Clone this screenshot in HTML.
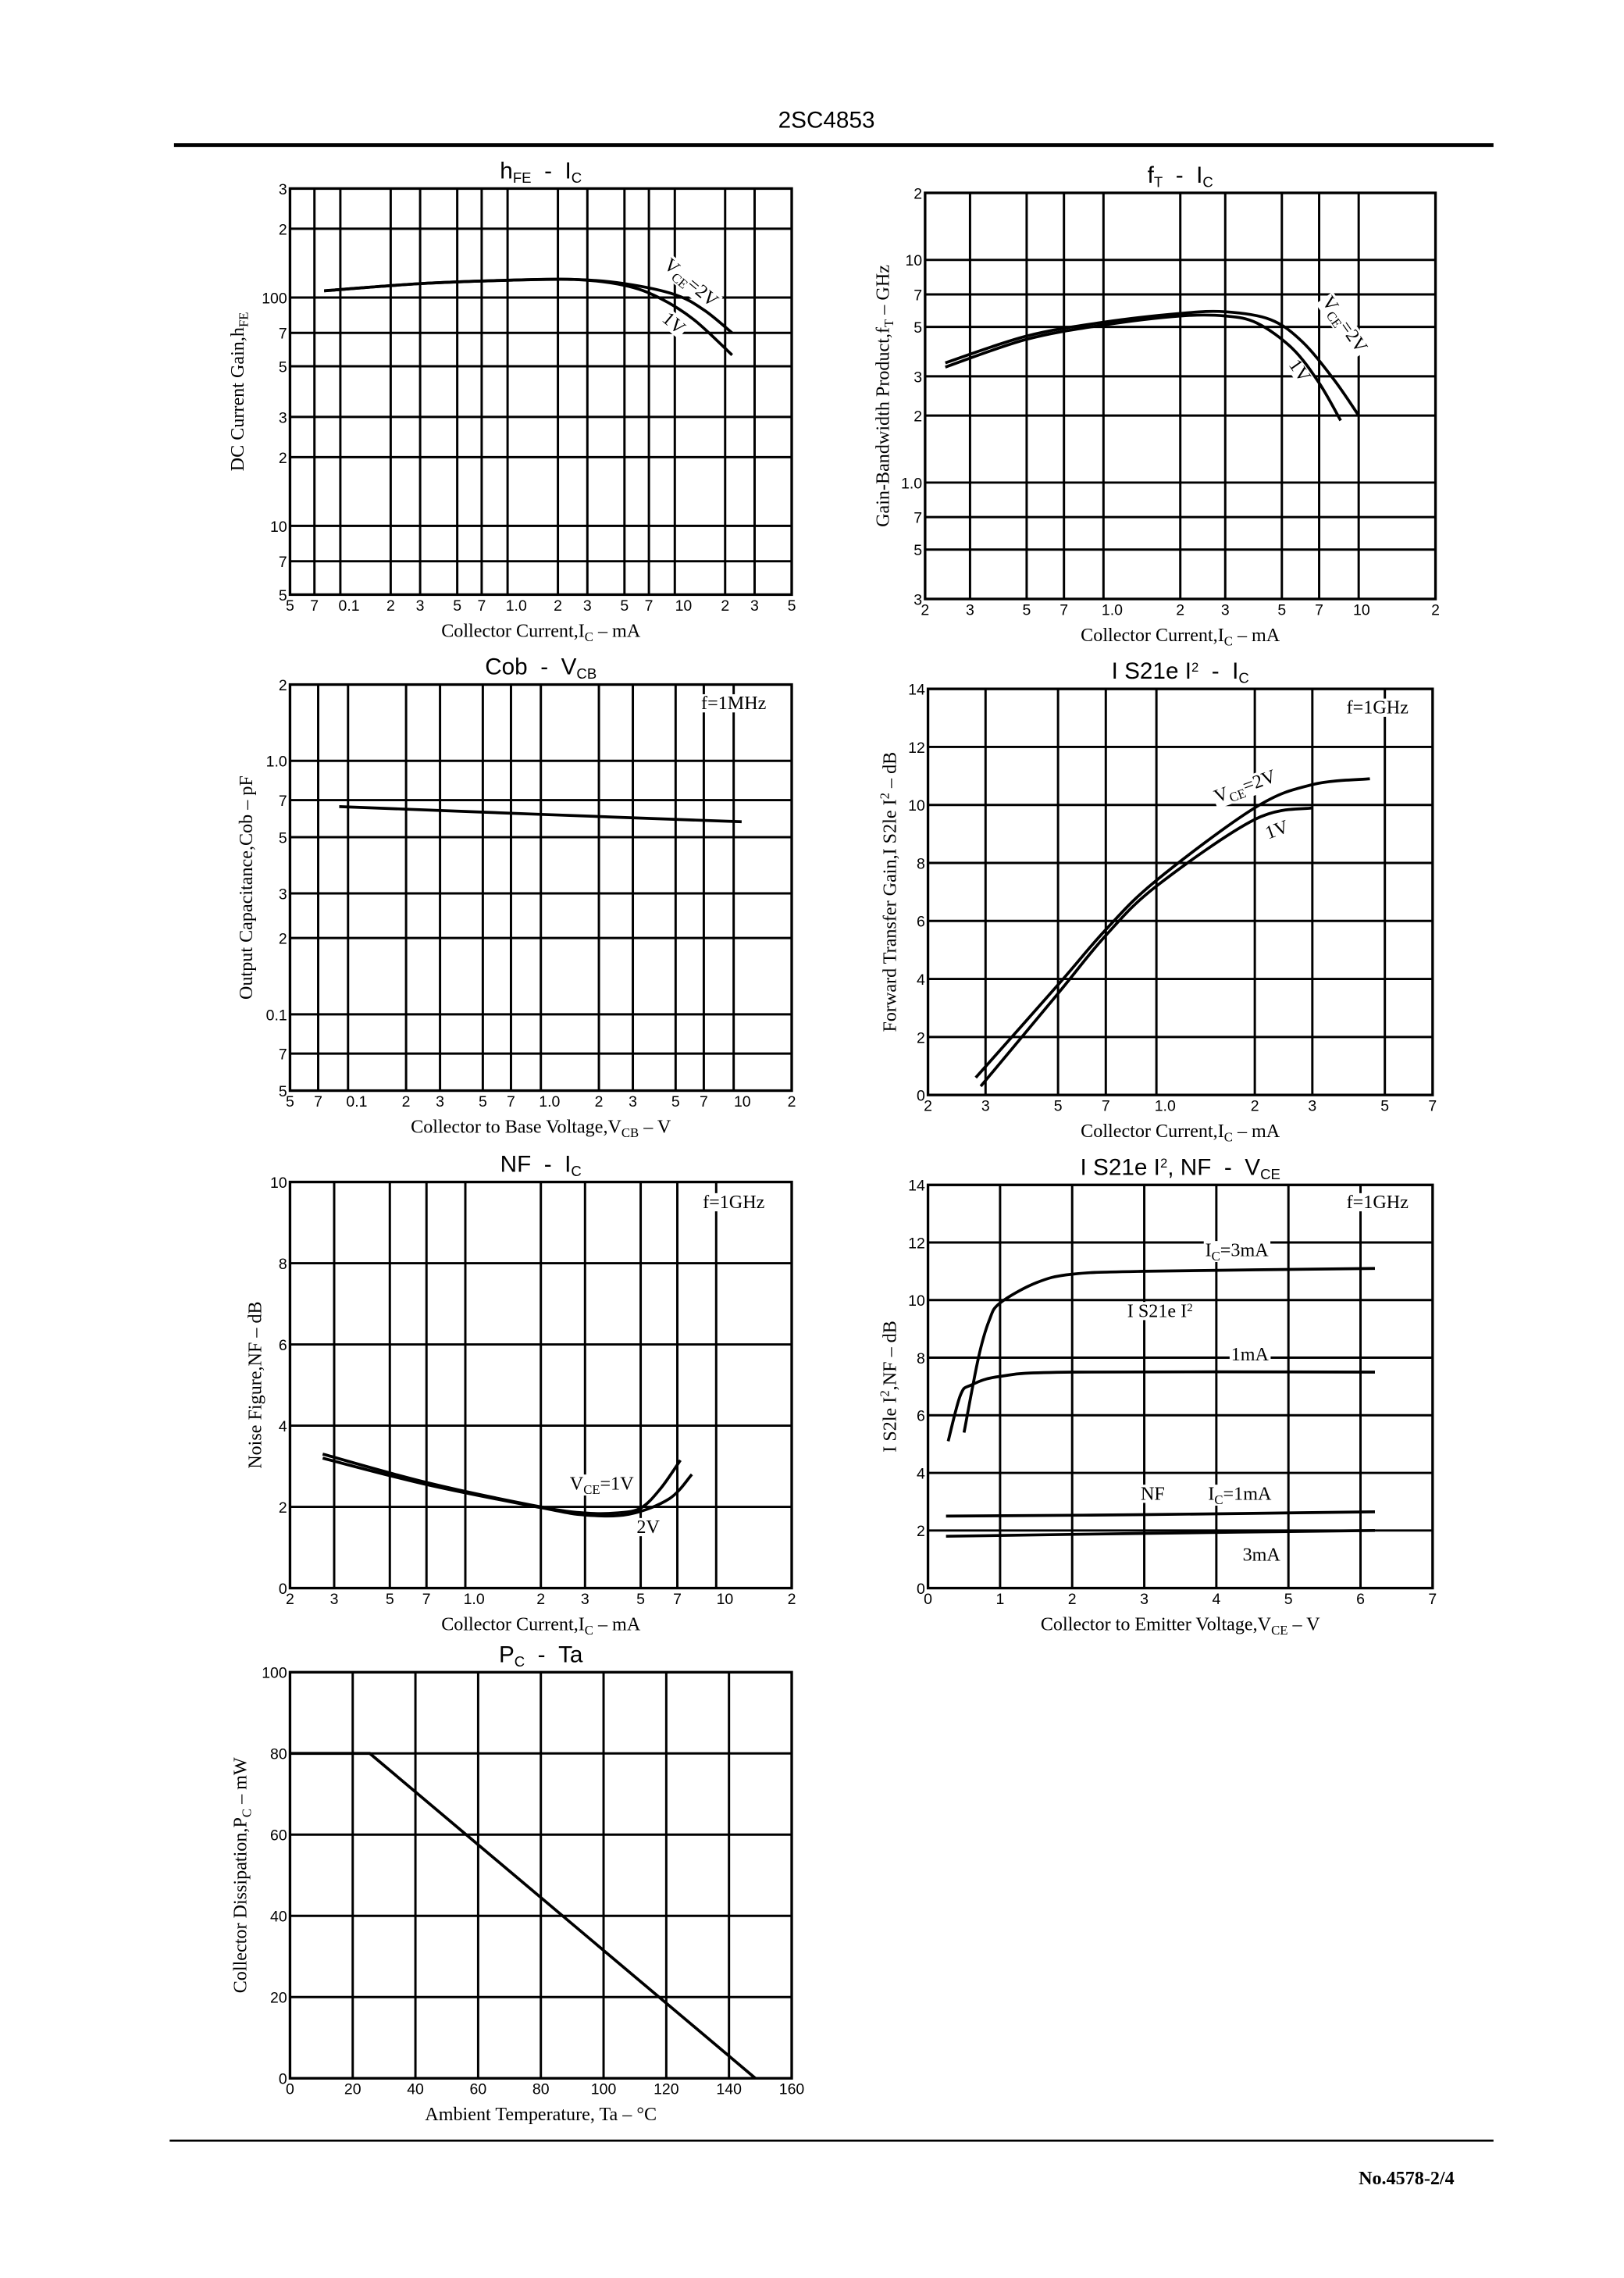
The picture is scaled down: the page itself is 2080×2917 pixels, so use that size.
<!DOCTYPE html>
<html><head><meta charset="utf-8"><style>
html,body{margin:0;padding:0;background:#fff;}
svg{display:block;}
.t{font-family:"Liberation Sans",sans-serif;font-size:10.5px;fill:#000;}
.s{font-family:"Liberation Serif",serif;font-size:13px;fill:#000;}
.h{font-family:"Liberation Sans",sans-serif;font-size:16px;fill:#000;}
</style></head><body>
<svg id="g" xmlns="http://www.w3.org/2000/svg" width="2080" height="2917" viewBox="0 0 1120 1570.7">
<rect width="1120" height="1571" fill="#fff"/>
<text x="570" y="88" class="h" text-anchor="middle" font-size="18">2SC4853</text>
<line x1="120" y1="100" x2="1030" y2="100" stroke="#000" stroke-width="2.6"/>
<line x1="117" y1="1476" x2="1030" y2="1476" stroke="#000" stroke-width="1.5"/>
<text x="1003" y="1506" class="s" text-anchor="end" font-weight="bold" font-size="14">No.4578-2/4</text>
</svg>
<script>
var S=document.getElementById('g'),NS='http://www.w3.org/2000/svg';
function el(n,a,txt){var e=document.createElementNS(NS,n);for(var k in a)e.setAttribute(k,a[k]);if(txt!=null)e.textContent=txt;S.appendChild(e);return e;}
function mk(c){
 var L=Math.log10;
 c.fx=function(v){return c.xl?c.x0+(L(v)-L(c.xa))/(L(c.xb)-L(c.xa))*(c.x1-c.x0):c.x0+(v-c.xa)/(c.xb-c.xa)*(c.x1-c.x0);};
 c.fy=function(v){return c.yl?c.y1-(L(v)-L(c.ya))/(L(c.yb)-L(c.ya))*(c.y1-c.y0):c.y1-(v-c.ya)/(c.yb-c.ya)*(c.y1-c.y0);};
 c.xt.forEach(function(t){var x=c.fx(t[0]);
  if(x>c.x0+1&&x<c.x1-1)el('line',{x1:x,y1:c.y0,x2:x,y2:c.y1,stroke:'#000','stroke-width':1.6});
  el('text',{x:x+(t[2]||0),y:c.y1+11,'class':'t','text-anchor':'middle'},t[1]);});
 c.yt.forEach(function(t){var y=c.fy(t[0]);
  if(y>c.y0+1&&y<c.y1-1)el('line',{x1:c.x0,y1:y,x2:c.x1,y2:y,stroke:'#000','stroke-width':1.6});
  el('text',{x:c.x0-2,y:y+4,'class':'t','text-anchor':'end'},t[1]);});
 el('rect',{x:c.x0,y:c.y0,width:c.x1-c.x0,height:c.y1-c.y0,fill:'none',stroke:'#000','stroke-width':1.8});
 el('text',{x:(c.x0+c.x1)/2,y:c.y0-7,'class':'h','text-anchor':'middle'},'').innerHTML=c.title;
 el('text',{x:(c.x0+c.x1)/2,y:c.y1+29,'class':'s','text-anchor':'middle'},'').innerHTML=c.xlab;
 var yx=c.ylx,yy=(c.y0+c.y1)/2;
 el('text',{x:yx,y:yy,'class':'s','text-anchor':'middle',transform:'rotate(-90 '+yx+' '+yy+')'},'').innerHTML=c.ylab;
 (c.notes||[]).forEach(function(n){var g=el('g',n[3]?{transform:'rotate('+n[3]+' '+n[0]+' '+n[1]+')'}:{});
  var r=document.createElementNS(NS,'rect');g.appendChild(r);
  var t=document.createElementNS(NS,'text');t.setAttribute('x',n[0]);t.setAttribute('y',n[1]);t.setAttribute('class','s');t.setAttribute('text-anchor','middle');t.innerHTML=n[2];g.appendChild(t);
  try{var b=t.getBBox();r.setAttribute('x',b.x-1);r.setAttribute('y',b.y+1);r.setAttribute('width',b.width+2);r.setAttribute('height',b.height-2);r.setAttribute('fill','#fff');}catch(e){}
 });
 (c.curves||[]).forEach(function(p){var P=p.map(function(q){return [c.fx(q[0]),c.fy(q[1])];});
  var d='M'+P[0][0]+' '+P[0][1];
  for(var i=0;i<P.length-1;i++){var a=P[i-1]||P[i],b=P[i],e=P[i+1],f=P[i+2]||e;
   d+=' C'+(b[0]+(e[0]-a[0])/6)+' '+(b[1]+(e[1]-a[1])/6)+' '+(e[0]-(f[0]-b[0])/6)+' '+(e[1]-(f[1]-b[1])/6)+' '+e[0]+' '+e[1];}
  el('path',{d:d,fill:'none',stroke:'#000','stroke-width':2});});
}
var lx1=[[0.05,'5'],[0.07,'7'],[0.1,'0.1',6],[0.2,'2'],[0.3,'3'],[0.5,'5'],[0.7,'7'],[1,'1.0',6],[2,'2'],[3,'3'],[5,'5'],[7,'7'],[10,'10',6]];
mk({x0:200,x1:546,y0:130,y1:410,xl:1,xa:0.05,xb:50,yl:1,ya:5,yb:300,
 xt:lx1.concat([[20,'2'],[30,'3'],[50,'5']]),
 yt:[[300,'3'],[200,'2'],[100,'100'],[70,'7'],[50,'5'],[30,'3'],[20,'2'],[10,'10'],[7,'7'],[5,'5']],
 title:'h<tspan font-size="10" dy="3">FE</tspan><tspan dy="-3">&#160; - &#160;I</tspan><tspan font-size="10" dy="3">C</tspan>',
 xlab:'Collector Current,I<tspan font-size="9" dy="3">C</tspan><tspan dy="-3"> &#8211; mA</tspan>',
 ylab:'DC Current Gain,h<tspan font-size="9" dy="3">FE</tspan>',ylx:168,
 curves:[[[0.08,107],[0.3,115],[1,119],[2.5,120],[5,115],[10,103],[15,88],[22,70]],
         [[0.08,107],[0.3,115],[1,119],[2.5,120],[5,113],[8,100],[13,80],[22,56]]],
 notes:[[474,198,'V<tspan font-size="9" dy="3">CE</tspan><tspan dy="-3">=2V</tspan>',40],[462,226,'1V',40]]});
mk({x0:638,x1:990,y0:133,y1:413,xl:1,xa:0.2,xb:20,yl:1,ya:0.3,yb:20,
 xt:[[0.2,'2'],[0.3,'3'],[0.5,'5'],[0.7,'7'],[1,'1.0',6],[2,'2'],[3,'3'],[5,'5'],[7,'7'],[10,'10',2],[20,'2']],
 yt:[[20,'2'],[10,'10'],[7,'7'],[5,'5'],[3,'3'],[2,'2'],[1,'1.0'],[0.7,'7'],[0.5,'5'],[0.3,'3']],
 title:'f<tspan font-size="10" dy="3">T</tspan><tspan dy="-3">&#160; - &#160;I</tspan><tspan font-size="10" dy="3">C</tspan>',
 xlab:'Collector Current,I<tspan font-size="9" dy="3">C</tspan><tspan dy="-3"> &#8211; mA</tspan>',
 ylab:'Gain-Bandwidth Product,f<tspan font-size="9" dy="3">T</tspan><tspan dy="-3"> &#8211; GHz</tspan>',ylx:613,
 curves:[[[0.24,3.45],[0.5,4.55],[1,5.25],[2,5.75],[3,5.85],[4.5,5.4],[6,4.3],[8,2.9],[10,2.0]],
         [[0.24,3.3],[0.5,4.4],[1,5.1],[2,5.6],[3,5.6],[4,5.2],[5.5,4.0],[7,2.8],[8.5,1.9]]],
 notes:[[924,226,'V<tspan font-size="9" dy="3">CE</tspan><tspan dy="-3">=2V</tspan>',55],[893,258,'1V',55]]});
mk({x0:200,x1:546,y0:472,y1:752,xl:1,xa:0.05,xb:20,yl:1,ya:0.05,yb:2,
 xt:lx1.concat([[20,'2']]),
 yt:[[2,'2'],[1,'1.0'],[0.7,'7'],[0.5,'5'],[0.3,'3'],[0.2,'2'],[0.1,'0.1'],[0.07,'7'],[0.05,'5']],
 title:'Cob &#160;- &#160;V<tspan font-size="10" dy="3">CB</tspan>',
 xlab:'Collector to Base Voltage,V<tspan font-size="9" dy="3">CB</tspan><tspan dy="-3"> &#8211; V</tspan>',
 ylab:'Output Capacitance,Cob &#8211; pF',ylx:174,
 curves:[[[0.09,0.66],[1,0.615],[11,0.575]]],
 notes:[[506,489,'f=1MHz']]});
mk({x0:640,x1:988,y0:475,y1:755,xl:1,xa:0.2,xb:7,yl:0,ya:0,yb:14,
 xt:[[0.2,'2'],[0.3,'3'],[0.5,'5'],[0.7,'7'],[1,'1.0',6],[2,'2'],[3,'3'],[5,'5'],[7,'7']],
 yt:[[14,'14'],[12,'12'],[10,'10'],[8,'8'],[6,'6'],[4,'4'],[2,'2'],[0,'0']],
 title:'I S21e I<tspan font-size="9" dy="-5">2</tspan><tspan dy="5">&#160; - &#160;I</tspan><tspan font-size="10" dy="3">C</tspan>',
 xlab:'Collector Current,I<tspan font-size="9" dy="3">C</tspan><tspan dy="-3"> &#8211; mA</tspan>',
 ylab:'Forward Transfer Gain,I S2le I<tspan font-size="9" dy="-5">2</tspan><tspan dy="5"> &#8211; dB</tspan>',ylx:618,
 curves:[[[0.28,0.6],[0.5,3.8],[0.7,5.7],[1,7.4],[2,9.9],[3,10.7],[4.5,10.9]],
         [[0.29,0.3],[0.5,3.5],[0.7,5.5],[1,7.2],[2,9.5],[3,9.9]]],
 notes:[[860,546,'V<tspan font-size="9" dy="3">CE</tspan><tspan dy="-3">=2V</tspan>',-20],[882,576,'1V',-20],[950,492,'f=1GHz']]});
mk({x0:200,x1:546,y0:815,y1:1095,xl:1,xa:0.2,xb:20,yl:0,ya:0,yb:10,
 xt:[[0.2,'2'],[0.3,'3'],[0.5,'5'],[0.7,'7'],[1,'1.0',6],[2,'2'],[3,'3'],[5,'5'],[7,'7'],[10,'10',6],[20,'2']],
 yt:[[10,'10'],[8,'8'],[6,'6'],[4,'4'],[2,'2'],[0,'0']],
 title:'NF &#160;- &#160;I<tspan font-size="10" dy="3">C</tspan>',
 xlab:'Collector Current,I<tspan font-size="9" dy="3">C</tspan><tspan dy="-3"> &#8211; mA</tspan>',
 ylab:'Noise Figure,NF &#8211; dB',ylx:180,
 curves:[[[0.27,3.3],[0.7,2.6],[2,2.0],[3,1.85],[4,1.85],[5,1.97],[6,2.45],[7.2,3.15]],
         [[0.27,3.2],[0.7,2.55],[2,1.98],[3,1.8],[4.5,1.82],[6.5,2.2],[8,2.8]]],
 notes:[[415,1027,'V<tspan font-size="9" dy="3">CE</tspan><tspan dy="-3">=1V</tspan>'],[447,1057,'2V'],[506,833,'f=1GHz']]});
mk({x0:640,x1:988,y0:817,y1:1095,xl:0,xa:0,xb:7,yl:0,ya:0,yb:14,
 xt:[[0,'0'],[1,'1'],[2,'2'],[3,'3'],[4,'4'],[5,'5'],[6,'6'],[7,'7']],
 yt:[[14,'14'],[12,'12'],[10,'10'],[8,'8'],[6,'6'],[4,'4'],[2,'2'],[0,'0']],
 title:'I S21e I<tspan font-size="9" dy="-5">2</tspan><tspan dy="5">, NF &#160;- &#160;V</tspan><tspan font-size="10" dy="3">CE</tspan>',
 xlab:'Collector to Emitter Voltage,V<tspan font-size="9" dy="3">CE</tspan><tspan dy="-3"> &#8211; V</tspan>',
 ylab:'I S2le I<tspan font-size="9" dy="-5">2</tspan><tspan dy="5">,NF &#8211; dB</tspan>',ylx:618,
 curves:[[[0.5,5.4],[0.7,8],[0.85,9.3],[1,9.9],[1.5,10.6],[2,10.9],[3,11.0],[6.2,11.1]],
         [[0.28,5.1],[0.45,6.7],[0.6,7.05],[1,7.35],[2,7.5],[6.2,7.5]],
         [[0.25,2.5],[3,2.55],[6.2,2.65]],[[0.25,1.8],[3,1.9],[6.2,2.0]]],
 notes:[[853,866,'I<tspan font-size="9" dy="3">C</tspan><tspan dy="-3">=3mA</tspan>'],[800,908,'I S21e I<tspan font-size="8" dy="-4">2</tspan>'],[862,938,'1mA'],[795,1034,'NF'],[855,1034,'I<tspan font-size="9" dy="3">C</tspan><tspan dy="-3">=1mA</tspan>'],[870,1076,'3mA'],[950,833,'f=1GHz']]});
mk({x0:200,x1:546,y0:1153,y1:1433,xl:0,xa:0,xb:160,yl:0,ya:0,yb:100,
 xt:[[0,'0'],[20,'20'],[40,'40'],[60,'60'],[80,'80'],[100,'100'],[120,'120'],[140,'140'],[160,'160']],
 yt:[[100,'100'],[80,'80'],[60,'60'],[40,'40'],[20,'20'],[0,'0']],
 title:'P<tspan font-size="10" dy="3">C</tspan><tspan dy="-3">&#160; - &#160;Ta</tspan>',
 xlab:'Ambient Temperature, Ta &#8211; &#176;C',
 ylab:'Collector Dissipation,P<tspan font-size="9" dy="3">C</tspan><tspan dy="-3"> &#8211; mW</tspan>',ylx:170,
 curves:[],notes:[]});
el('polyline',{points:'200,1209 255,1209 521,1433',fill:'none',stroke:'#000','stroke-width':2});
</script>
</body></html>
